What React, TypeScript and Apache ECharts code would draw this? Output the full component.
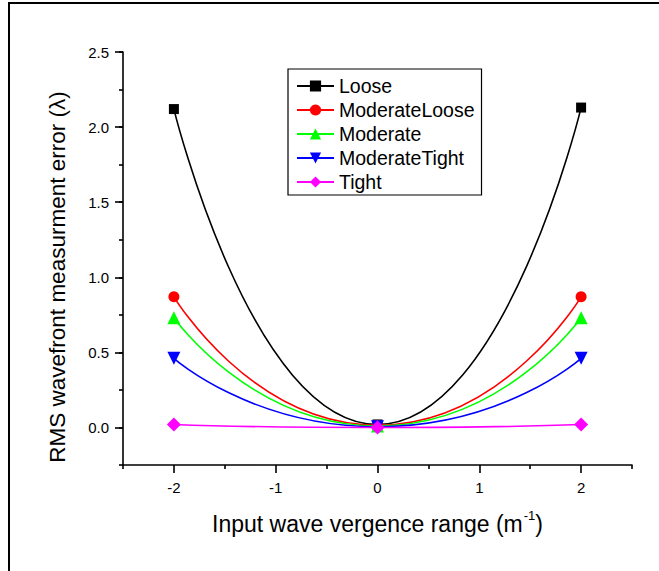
import React, { useEffect, useRef } from "react";
import * as echarts from "echarts";

const xValues = [-2, 0, 2];
const seriesNames = ["Loose", "ModerateLoose", "Moderate", "ModerateTight", "Tight"];
const loose = [2.12, 0.02, 2.13];
const moderateLoose = [0.87, 0.015, 0.87];
const moderate = [0.73, 0.01, 0.73];
const moderateTight = [0.46, 0.005, 0.46];
const tight = [0.02, 0.0, 0.02];
const xTickLabels = [-2, -1, 0, 1, 2];
const xMinorTicks = [-2.5, -1.5, -0.5, 0.5, 1.5, 2.5];
const yTickLabels = [0, 0.5, 1.0, 1.5, 2.0, 2.5];
const yTitle = "RMS wavefront measurment error (\u03bb)";

const FONT = "'Liberation Sans', Arial, sans-serif";

export default function App() {
  const ref = useRef<HTMLDivElement>(null);
  useEffect(() => {
    if (!ref.current) return;
    const chart = echarts.init(ref.current, null, { renderer: "svg" });
    const values = [loose, moderateLoose, moderate, moderateTight, tight];
    const colors = ["#000000", "#ff0000", "#00ff00", "#0000ff", "#ff00ff"];
    const symbols = ["rect", "circle", "triangle", "triangle", "diamond"];
    const sizes = [10, 11, 13, 13, 14];
    const rotates = [0, 0, 0, 180, 0];
    const series = seriesNames.map((name, i) => ({
      name,
      type: "line",
      xAxisIndex: 0,
      yAxisIndex: 0,
      data: xValues.map((x, j) => [x, values[i][j]]),
      smooth: 0.62,
      symbol: symbols[i],
      symbolSize: sizes[i],
      symbolRotate: rotates[i],
      showAllSymbol: true,
      lineStyle: { color: colors[i], width: 1.6 },
      itemStyle: { color: colors[i] },
      z: 2 + i,
    }));
    chart.setOption({
      animation: false,
      backgroundColor: "#ffffff",
      textStyle: { fontFamily: FONT },
      graphic: [
        {
          type: "polyline",
          shape: { points: [[9, 600], [9, 3], [700, 3]] },
          style: { stroke: "#000", lineWidth: 2, fill: "none" },
          z: 100,
        },
        {
          type: "text",
          x: 57,
          y: 277,
          rotation: Math.PI / 2,
          style: {
            text: yTitle,
            fontFamily: FONT,
            fontSize: 22.5,
            fill: "#000",
            align: "center",
            verticalAlign: "middle",
          },
        },
      ],
      grid: { left: 123, right: 27, top: 52, bottom: 106, containLabel: false },
      legend: {
        orient: "vertical",
        left: 288,
        top: 69,
        padding: [7, 7, 3, 8],
        itemGap: 4,
        itemWidth: 37,
        itemHeight: 14,
        borderColor: "#000",
        borderWidth: 1.2,
        textStyle: { fontFamily: FONT, fontSize: 19.5, color: "#000", lineHeight: 18 },
        data: seriesNames,
      },
      xAxis: [
        {
          type: "value",
          min: -2.5,
          max: 2.5,
          interval: 0.5,
          position: "bottom",
          name: "{a|Input wave vergence range (m}{s|-1}{a|)}",
          nameLocation: "middle",
          nameGap: 44,
          nameTextStyle: {
            rich: {
              a: { fontFamily: FONT, fontSize: 23, color: "#000", verticalAlign: "bottom", lineHeight: 26 },
              s: { fontFamily: FONT, fontSize: 13, color: "#000", verticalAlign: "top", lineHeight: 26, padding: [0, 0, 0, 1] },
            },
          },
          axisLine: { show: true, onZero: false, lineStyle: { color: "#000", width: 1.6 } },
          axisTick: { show: true, customValues: xTickLabels, length: 8, lineStyle: { color: "#000", width: 1.6 } },
          axisLabel: { customValues: xTickLabels, margin: 15, fontSize: 15, color: "#000", fontFamily: FONT, formatter: (v: number) => String(v) },
          splitLine: { show: false },
        },
        {
          type: "value",
          min: -2.5,
          max: 2.5,
          interval: 0.5,
          position: "bottom",
          axisLine: { show: false, onZero: false },
          axisTick: { show: true, customValues: xMinorTicks, length: 4, lineStyle: { color: "#000", width: 1.6 } },
          axisLabel: { show: false },
          splitLine: { show: false },
        },
      ],
      yAxis: [
        {
          type: "value",
          min: -0.25,
          max: 2.5,
          interval: 0.25,
          position: "left",
          axisLine: { show: true, onZero: false, lineStyle: { color: "#000", width: 1.6 } },
          axisTick: { show: true, customValues: yTickLabels, length: 8, lineStyle: { color: "#000", width: 1.6 } },
          axisLabel: { customValues: yTickLabels, margin: 14, fontSize: 15, color: "#000", fontFamily: FONT, formatter: (v: number) => v.toFixed(1) },
          splitLine: { show: false },
        },
        {
          type: "value",
          min: -0.25,
          max: 2.5,
          interval: 0.25,
          position: "left",
          axisLine: { show: false, onZero: false },
          axisTick: { show: true, length: 4, lineStyle: { color: "#000", width: 1.6 } },
          axisLabel: { show: false },
          splitLine: { show: false },
        },
      ],
      series,
    });
    return () => chart.dispose();
  }, []);
  return (
    <div
      ref={ref}
      style={{ position: "absolute", left: 0, top: 0, width: 659, height: 571, background: "#fff" }}
    />
  );
}
